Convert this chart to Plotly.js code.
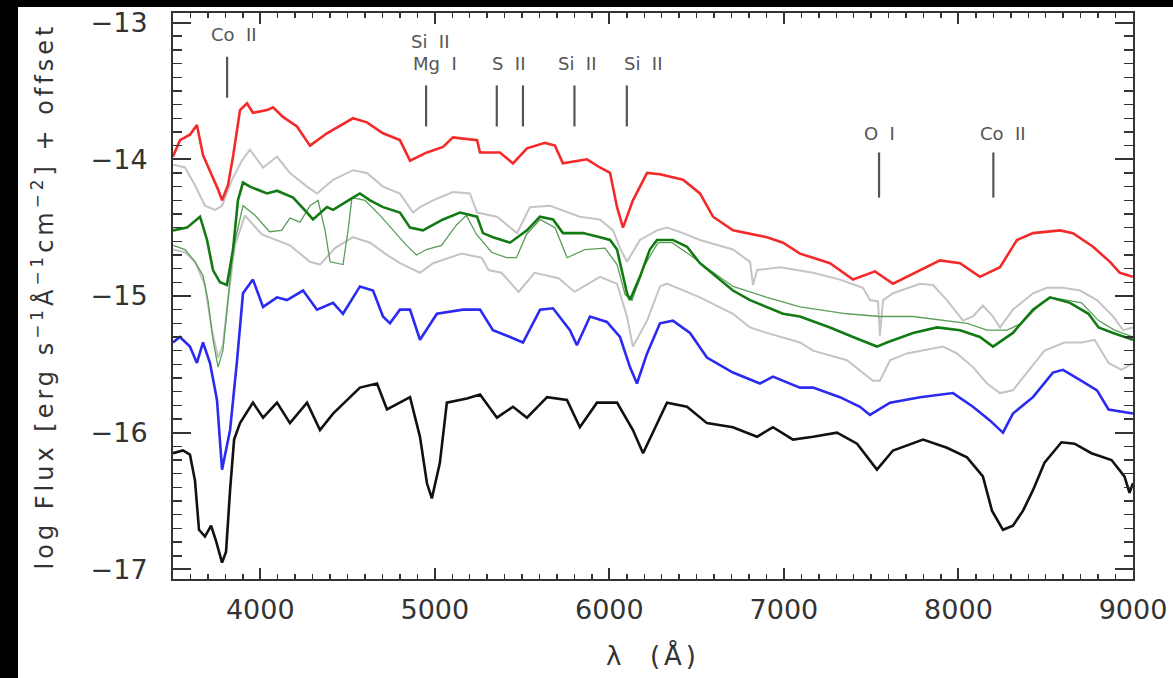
<!DOCTYPE html>
<html><head><meta charset="utf-8">
<script src="https://cdn.plot.ly/plotly-3.0.1.min.js"></script>
<style>
html,body{margin:0;padding:0;background:#000;width:1173px;height:678px;overflow:hidden}
#plot{position:absolute;left:18px;top:7px;width:1155px;height:671px;background:#fff}
.ytitle{letter-spacing:4px}
.xtitle{letter-spacing:4px}
</style></head><body><div id="plot"></div><script>
// ---- spectra (wavelength in Angstrom, log flux + offset) ----
const redWave = [3500,3540,3597,3637,3672,3729,3758,3781,3815,3844,3884,3924,3958,4039,4073,4130,4210,4285,4382,4531,4611,4703,4800,4858,4955,5047,5104,5242,5259,5373,5448,5528,5631,5688,5734,5872,5946,6004,6044,6078,6135,6216,6290,6422,6519,6594,6708,6903,6995,7092,7264,7396,7522,7625,7780,7894,8009,8123,8238,8335,8427,8582,8656,8771,8868,8925,9000];
const redFlux = [-13.98,-13.86,-13.82,-13.75,-13.97,-14.13,-14.22,-14.30,-14.19,-13.98,-13.64,-13.59,-13.66,-13.64,-13.62,-13.69,-13.76,-13.90,-13.81,-13.70,-13.73,-13.81,-13.86,-14.01,-13.95,-13.91,-13.84,-13.86,-13.95,-13.95,-14.03,-13.92,-13.88,-13.90,-14.03,-14.00,-14.06,-14.10,-14.35,-14.50,-14.30,-14.10,-14.11,-14.15,-14.25,-14.42,-14.52,-14.57,-14.61,-14.69,-14.76,-14.88,-14.82,-14.91,-14.81,-14.74,-14.76,-14.86,-14.79,-14.59,-14.54,-14.52,-14.54,-14.64,-14.75,-14.83,-14.86];

const gray1Wave = [3500,3569,3626,3683,3741,3781,3838,3895,3941,4016,4096,4170,4268,4325,4417,4531,4611,4703,4800,4875,4915,4990,5104,5201,5242,5356,5471,5545,5660,5831,5946,6021,6061,6101,6175,6273,6330,6422,6519,6708,6806,6823,6846,6978,7167,7321,7453,7493,7539,7550,7568,7625,7780,7854,7934,8026,8083,8140,8198,8238,8312,8427,8507,8599,8697,8794,8886,8943,9000];
const gray1Flux = [-14.04,-14.06,-14.19,-14.34,-14.37,-14.34,-14.15,-14.01,-13.93,-14.06,-13.98,-14.10,-14.20,-14.25,-14.15,-14.08,-14.10,-14.20,-14.25,-14.39,-14.35,-14.30,-14.24,-14.25,-14.39,-14.42,-14.54,-14.35,-14.34,-14.42,-14.44,-14.52,-14.65,-14.75,-14.59,-14.52,-14.50,-14.54,-14.59,-14.66,-14.75,-14.92,-14.81,-14.79,-14.83,-14.88,-14.94,-15.03,-15.04,-15.29,-15.03,-14.98,-14.91,-14.92,-15.03,-15.18,-15.15,-15.07,-15.15,-15.23,-15.10,-14.98,-14.94,-14.94,-14.96,-15.03,-15.15,-15.25,-15.23];

const greenWave = [3500,3580,3655,3695,3729,3769,3809,3844,3872,3901,3941,4039,4096,4188,4268,4302,4382,4417,4531,4571,4629,4703,4800,4858,4932,5047,5144,5242,5276,5333,5431,5528,5602,5677,5734,5849,5946,6004,6044,6101,6118,6175,6232,6273,6364,6445,6519,6634,6708,6806,6903,6995,7092,7264,7396,7533,7590,7740,7877,8009,8123,8198,8312,8427,8524,8639,8745,8803,8886,9000];
const greenFlux = [-14.52,-14.50,-14.42,-14.59,-14.81,-14.90,-14.92,-14.66,-14.30,-14.17,-14.20,-14.25,-14.23,-14.28,-14.39,-14.44,-14.35,-14.37,-14.28,-14.25,-14.30,-14.35,-14.39,-14.50,-14.52,-14.44,-14.39,-14.42,-14.54,-14.57,-14.61,-14.52,-14.42,-14.44,-14.54,-14.54,-14.57,-14.59,-14.66,-14.98,-15.03,-14.86,-14.66,-14.59,-14.59,-14.64,-14.76,-14.88,-14.96,-15.03,-15.08,-15.13,-15.15,-15.23,-15.30,-15.37,-15.34,-15.27,-15.23,-15.25,-15.30,-15.37,-15.27,-15.10,-15.01,-15.05,-15.13,-15.23,-15.27,-15.32];

const thinGreenWave = [3500,3569,3626,3672,3700,3729,3758,3786,3815,3844,3901,3970,4053,4122,4170,4228,4285,4331,4371,4400,4474,4503,4525,4600,4686,4781,4838,4895,4952,5038,5124,5181,5239,5325,5411,5468,5525,5603,5689,5758,5860,5975,6044,6090,6130,6204,6279,6359,6462,6576,6708,6903,7092,7361,7550,7740,7934,8049,8164,8279,8361,8476,8533,8705,8803,8894,9000];
const thinGreenFlux = [-14.63,-14.66,-14.75,-14.85,-15.03,-15.32,-15.52,-15.40,-15.03,-14.66,-14.34,-14.41,-14.53,-14.52,-14.43,-14.46,-14.34,-14.30,-14.52,-14.75,-14.77,-14.52,-14.28,-14.30,-14.41,-14.55,-14.63,-14.70,-14.66,-14.63,-14.48,-14.41,-14.55,-14.68,-14.72,-14.72,-14.55,-14.44,-14.50,-14.72,-14.66,-14.65,-14.77,-14.99,-15.03,-14.77,-14.61,-14.61,-14.70,-14.81,-14.93,-15.01,-15.08,-15.13,-15.15,-15.15,-15.18,-15.20,-15.25,-15.25,-15.20,-15.05,-15.01,-15.05,-15.18,-15.25,-15.30];

const gray2Wave = [3500,3569,3626,3683,3723,3758,3786,3815,3855,3912,4009,4084,4170,4285,4342,4428,4531,4629,4715,4800,4915,4990,5153,5268,5308,5382,5480,5571,5709,5801,5946,6044,6101,6135,6216,6290,6330,6519,6708,6806,6903,7092,7167,7361,7453,7510,7550,7608,7705,7797,7911,7991,8083,8164,8238,8312,8392,8493,8607,8705,8780,8860,8934,9000];
const gray2Flux = [-14.66,-14.68,-14.75,-14.92,-15.25,-15.45,-15.36,-15.03,-14.63,-14.41,-14.55,-14.59,-14.63,-14.75,-14.77,-14.65,-14.57,-14.61,-14.69,-14.76,-14.83,-14.76,-14.69,-14.72,-14.81,-14.83,-14.97,-14.83,-14.87,-14.97,-14.86,-14.91,-15.15,-15.37,-15.18,-14.93,-14.91,-15.01,-15.13,-15.23,-15.27,-15.34,-15.40,-15.47,-15.56,-15.62,-15.62,-15.47,-15.42,-15.40,-15.37,-15.42,-15.52,-15.64,-15.71,-15.69,-15.56,-15.40,-15.34,-15.34,-15.32,-15.49,-15.54,-15.49];

const blueWave = [3500,3540,3597,3637,3672,3712,3752,3781,3827,3867,3901,3958,4016,4096,4153,4245,4325,4417,4474,4571,4646,4703,4743,4800,4858,4915,5012,5161,5259,5333,5431,5505,5603,5677,5774,5814,5889,5986,6061,6118,6158,6216,6290,6364,6462,6559,6708,6863,6937,7092,7167,7321,7436,7493,7608,7780,7969,8083,8180,8255,8312,8427,8541,8599,8705,8794,8860,9000];
const blueFlux = [-15.34,-15.30,-15.37,-15.49,-15.34,-15.49,-15.76,-16.27,-15.98,-15.47,-14.98,-14.88,-15.08,-15.01,-15.03,-14.96,-15.10,-15.05,-15.13,-14.93,-14.96,-15.15,-15.20,-15.10,-15.10,-15.32,-15.13,-15.10,-15.10,-15.25,-15.30,-15.34,-15.10,-15.09,-15.25,-15.36,-15.15,-15.19,-15.30,-15.52,-15.64,-15.42,-15.20,-15.18,-15.27,-15.45,-15.56,-15.64,-15.59,-15.67,-15.67,-15.74,-15.81,-15.87,-15.78,-15.74,-15.71,-15.81,-15.91,-16.00,-15.86,-15.74,-15.56,-15.54,-15.62,-15.69,-15.83,-15.86];

const blackWave = [3500,3557,3597,3626,3649,3683,3718,3746,3781,3804,3827,3850,3884,3958,4016,4096,4170,4268,4342,4417,4571,4669,4726,4800,4858,4915,4955,4983,5029,5069,5184,5259,5356,5448,5528,5643,5757,5831,5929,6044,6135,6193,6250,6330,6445,6559,6708,6846,6937,7052,7167,7304,7419,7533,7625,7797,7934,8049,8140,8192,8255,8312,8370,8427,8493,8590,8665,8762,8877,8951,8980,9000];
const blackFlux = [-16.15,-16.13,-16.16,-16.35,-16.71,-16.76,-16.68,-16.79,-16.95,-16.87,-16.42,-16.05,-15.93,-15.78,-15.89,-15.78,-15.93,-15.78,-15.98,-15.86,-15.67,-15.64,-15.83,-15.78,-15.74,-16.03,-16.37,-16.48,-16.22,-15.78,-15.75,-15.72,-15.89,-15.81,-15.89,-15.74,-15.76,-15.96,-15.78,-15.78,-15.98,-16.15,-16.00,-15.78,-15.81,-15.93,-15.96,-16.03,-15.96,-16.05,-16.03,-16.00,-16.08,-16.27,-16.13,-16.05,-16.11,-16.18,-16.32,-16.57,-16.71,-16.68,-16.57,-16.42,-16.22,-16.07,-16.08,-16.15,-16.20,-16.32,-16.44,-16.37];

// ---- line identifications ----
const labelText = ['Co  II','Si  II','Mg  I','S  II','Si  II','Si  II','O  I','Co  II'];
const labelWave = [3850, 4978, 5001, 5425, 5820, 6198, 7545, 8255];
const labelFlux = [-13.09, -13.14, -13.30, -13.30, -13.30, -13.30, -13.815, -13.815];
const markerWave = [3810, 4950, 5355, 5505, 5800, 6100, 7545, 8200];
const markerTop = [-13.25, -13.46, -13.46, -13.46, -13.46, -13.46, -13.95, -13.95];
const markerBottom = [-13.55, -13.76, -13.76, -13.76, -13.76, -13.76, -14.28, -14.28];

const xTickVals = [4000, 5000, 6000, 7000, 8000, 9000];
const yTickVals = [-17, -16, -15, -14, -13];

function spec(x, y, color, width) {
  return {x: x, y: y, type: 'scatter', mode: 'lines', line: {color: color, width: width}, hoverinfo: 'skip'};
}
const mx = [], my = [];
markerWave.forEach((w, i) => { mx.push(w, w, null); my.push(markerTop[i], markerBottom[i], null); });

const traces = [
  spec(gray1Wave, gray1Flux, '#c4c4c4', 2),
  spec(gray2Wave, gray2Flux, '#c4c4c4', 2),
  spec(thinGreenWave, thinGreenFlux, '#5a9e5a', 1.3),
  spec(greenWave, greenFlux, '#137a13', 2.6),
  spec(redWave, redFlux, '#f42a2a', 2.6),
  spec(blueWave, blueFlux, '#2a2af0', 2.6),
  spec(blackWave, blackFlux, '#111111', 2.6),
  {x: mx, y: my, type: 'scatter', mode: 'lines', line: {color: '#555', width: 2.2}, hoverinfo: 'skip'}
];

const tf = {family: 'DejaVu Sans', size: 27, color: '#333'};
const layout = {
  width: 1155, height: 671,
  margin: {l: 155, r: 40, t: 6, b: 99},
  paper_bgcolor: '#fff', plot_bgcolor: '#fff',
  showlegend: false,
  xaxis: {
    range: [3500, 9000], tickvals: xTickVals, ticks: 'inside', ticklen: 11, tickwidth: 2, tickcolor: '#333',
    showline: true, linecolor: '#333', linewidth: 2, mirror: 'allticks', showgrid: false, zeroline: false,
    tickfont: tf, ticklabelstandoff: 6,
    minor: {dtick: 100, tick0: 0, ticks: 'inside', ticklen: 5, tickwidth: 1.5, tickcolor: '#333', showgrid: false},
    title: {text: 'λ  (Å)', font: {family: 'DejaVu Sans', size: 26, color: '#333'}, standoff: 22}
  },
  yaxis: {
    range: [-17.07, -12.93], tickvals: yTickVals, ticks: 'inside', ticklen: 18, tickwidth: 2, tickcolor: '#333',
    showline: true, linecolor: '#333', linewidth: 2, mirror: 'allticks', showgrid: false, zeroline: false,
    tickfont: tf, ticklabelstandoff: 18,
    minor: {dtick: 0.1, tick0: 0, ticks: 'inside', ticklen: 9, tickwidth: 1.5, tickcolor: '#333', showgrid: false},
    title: {text: 'log Flux [erg s<sup>−1</sup>Å<sup>−1</sup>cm<sup>−2</sup>] + offset', font: {family: 'DejaVu Sans', size: 24, color: '#333'}, standoff: 30}
  },
  annotations: labelText.map((t, i) => ({
    x: labelWave[i], y: labelFlux[i], xref: 'x', yref: 'y', text: t, showarrow: false,
    font: {family: 'DejaVu Sans', size: 18, color: '#555'}, xanchor: 'center', yanchor: 'middle'
  }))
};
Plotly.newPlot('plot', traces, layout, {staticPlot: true, displayModeBar: false});
</script></body></html>
